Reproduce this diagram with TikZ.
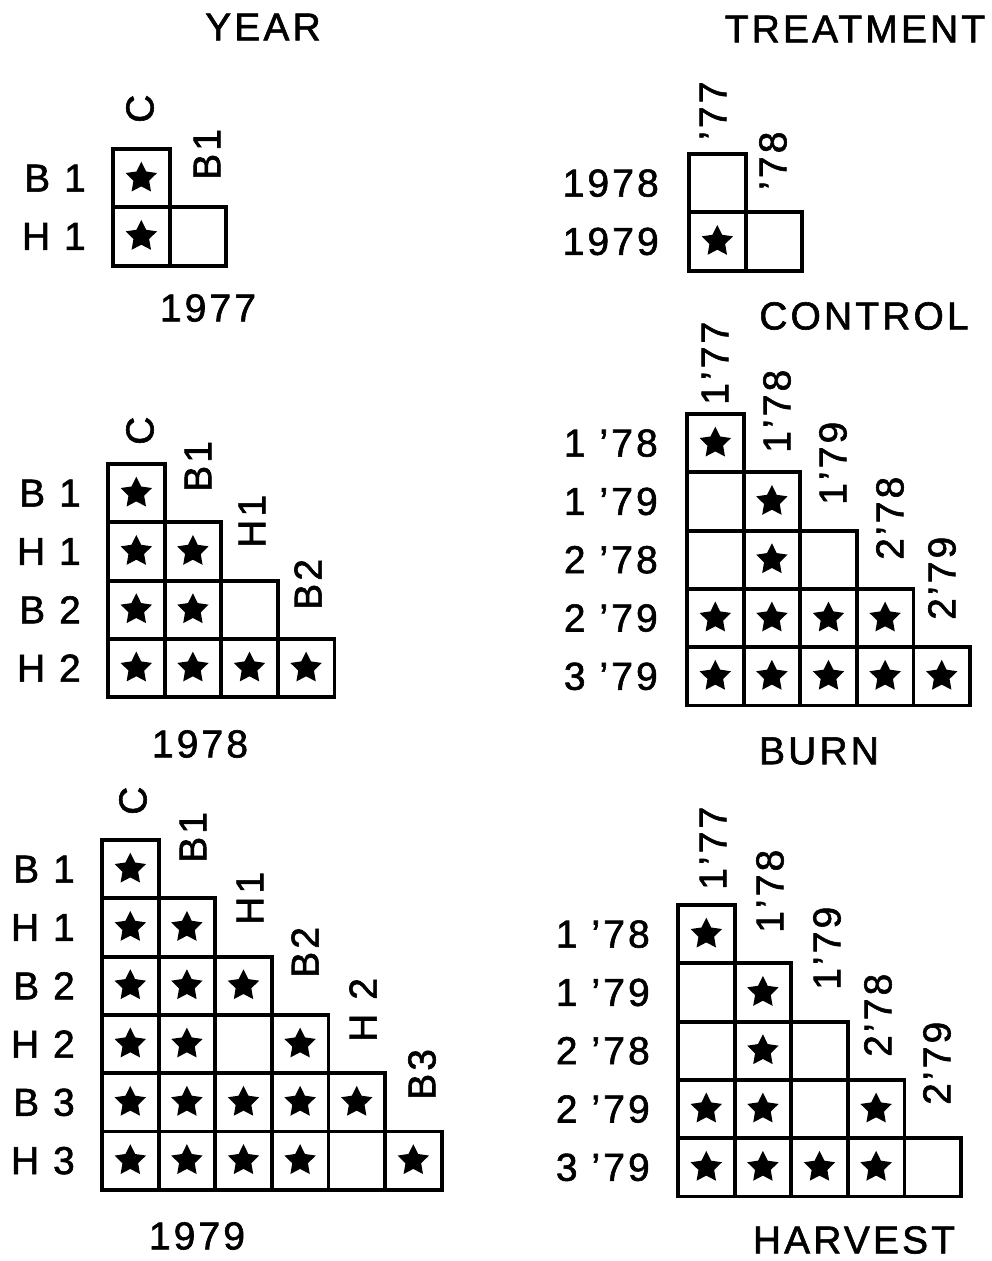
\documentclass[tikz,border=0pt]{standalone}
\usepackage{fontspec}
\setmainfont[LetterSpace=8, BoldFont=Liberation Sans, BoldFeatures={FakeBold=1.5}]{Liberation Sans}
\usetikzlibrary{shapes.geometric,positioning}
\newcommand\cellw{56.6}
\newcommand\cellh{58.3}
\newcommand\drawpanel[4]{%
  \foreach \r/\c/\s in {#4} {%
    \node[cell] (#1-\r-\c) at ({#2+(\c-0.5)*\cellw},{#3+(\r-0.5)*\cellh}) {};
    \ifnum\s=1 \node[staricon] (#1-\r-\c-star) at (#1-\r-\c) {};\fi
  }}
\begin{document}
\begin{tikzpicture}[x=1pt,y=-1pt,
  cell/.style={draw, line width=3.8pt, minimum width=56.6pt, minimum height=58.3pt, inner sep=0pt, outer sep=0pt},
  staricon/.style={star, star points=5, star point ratio=2.0, fill=black, minimum size=33pt, inner sep=0pt},
  lab/.style={font=\fontsize{39}{42}\selectfont\bfseries, inner sep=0pt},
  rowlab/.style={lab, anchor=east},
  collab/.style={lab, rotate=90, anchor=west},
]
\path[use as bounding box] (0,0) rectangle (992,1261);

% titles
\node[lab] (t-year) at (263,27) {YEAR};
\node[lab] (t-treat) at (855,29) {TREATMENT};

% ---------- YEAR 1977 ----------
\drawpanel{ya}{113}{149}{1/1/1, 2/1/1, 2/2/0}
\node[rowlab, left=27pt of ya-1-1] (ya-r1) {B 1};
\node[rowlab, left=27pt of ya-2-1] (ya-r2) {H 1};
\node[collab] (ya-c1) at (140,123) {C};
\node[collab] (ya-c2) at (207,180) {B1};
\node[lab] (ya-cap) at (208,308) {1977};

% ---------- YEAR 1978 ----------
\drawpanel{yb}{108}{464}{1/1/1, 2/1/1, 2/2/1, 3/1/1, 3/2/1, 3/3/0, 4/1/1, 4/2/1, 4/3/1, 4/4/1}
\node[rowlab, left=27pt of yb-1-1] (yb-r1) {B 1};
\node[rowlab, left=27pt of yb-2-1] (yb-r2) {H 1};
\node[rowlab, left=27pt of yb-3-1] (yb-r3) {B 2};
\node[rowlab, left=27pt of yb-4-1] (yb-r4) {H 2};
\node[collab] (yb-c1) at (140,445) {C};
\node[collab] (yb-c2) at (198,492) {B1};
\node[collab] (yb-c3) at (252,548) {H1};
\node[collab] (yb-c4) at (308,610) {B2};
\node[lab] (yb-cap) at (200,744) {1978};

% ---------- YEAR 1979 ----------
\drawpanel{yc}{102}{840}{1/1/1, 2/1/1, 2/2/1, 3/1/1, 3/2/1, 3/3/1, 4/1/1, 4/2/1, 4/3/0, 4/4/1, 5/1/1, 5/2/1, 5/3/1, 5/4/1, 5/5/1, 6/1/1, 6/2/1, 6/3/1, 6/4/1, 6/5/0, 6/6/1}
\node[rowlab, left=27pt of yc-1-1] (yc-r1) {B 1};
\node[rowlab, left=27pt of yc-2-1] (yc-r2) {H 1};
\node[rowlab, left=27pt of yc-3-1] (yc-r3) {B 2};
\node[rowlab, left=27pt of yc-4-1] (yc-r4) {H 2};
\node[rowlab, left=27pt of yc-5-1] (yc-r5) {B 3};
\node[rowlab, left=27pt of yc-6-1] (yc-r6) {H 3};
\node[collab] (yc-c1) at (133,815) {C};
\node[collab] (yc-c2) at (193,863) {B1};
\node[collab] (yc-c3) at (250,925) {H1};
\node[collab] (yc-c4) at (305,978) {B2};
\node[collab] (yc-c5) at (363,1042) {H 2};
\node[collab] (yc-c6) at (422,1100) {B3};
\node[lab] (yc-cap) at (197,1236) {1979};

% ---------- CONTROL ----------
\drawpanel{tc}{689}{154}{1/1/0, 2/1/1, 2/2/0}
\node[rowlab, left=30pt of tc-1-1] (tc-r1) {1978};
\node[rowlab, left=30pt of tc-2-1] (tc-r2) {1979};
\node[collab] (tc-c1) at (713,140) {’77};
\node[collab] (tc-c2) at (773,190) {’78};
\node[lab] (tc-cap) at (864,316) {CONTROL};

% ---------- BURN ----------
\drawpanel{tb}{687}{414}{1/1/1, 2/1/0, 2/2/1, 3/1/0, 3/2/1, 3/3/0, 4/1/1, 4/2/1, 4/3/1, 4/4/1, 5/1/1, 5/2/1, 5/3/1, 5/4/1, 5/5/1}
\node[rowlab, left=29pt of tb-1-1] (tb-r1) {1 ’78};
\node[rowlab, left=29pt of tb-2-1] (tb-r2) {1 ’79};
\node[rowlab, left=29pt of tb-3-1] (tb-r3) {2 ’78};
\node[rowlab, left=29pt of tb-4-1] (tb-r4) {2 ’79};
\node[rowlab, left=29pt of tb-5-1] (tb-r5) {3 ’79};
\node[collab] (tb-c1) at (715,405) {1’77};
\node[collab] (tb-c2) at (777,453) {1’78};
\node[collab] (tb-c3) at (833,505) {1’79};
\node[collab] (tb-c4) at (890,560) {2’78};
\node[collab] (tb-c5) at (942,620) {2’79};
\node[lab] (tb-cap) at (819,751) {BURN};

% ---------- HARVEST ----------
\drawpanel{th}{678}{905}{1/1/1, 2/1/0, 2/2/1, 3/1/0, 3/2/1, 3/3/0, 4/1/1, 4/2/1, 4/3/0, 4/4/1, 5/1/1, 5/2/1, 5/3/1, 5/4/1, 5/5/0}
\node[rowlab, left=28pt of th-1-1] (th-r1) {1 ’78};
\node[rowlab, left=28pt of th-2-1] (th-r2) {1 ’79};
\node[rowlab, left=28pt of th-3-1] (th-r3) {2 ’78};
\node[rowlab, left=28pt of th-4-1] (th-r4) {2 ’79};
\node[rowlab, left=28pt of th-5-1] (th-r5) {3 ’79};
\node[collab] (th-c1) at (713,890) {1’77};
\node[collab] (th-c2) at (770,933) {1’78};
\node[collab] (th-c3) at (827,990) {1’79};
\node[collab] (th-c4) at (878,1057) {2’78};
\node[collab] (th-c5) at (937,1105) {2’79};
\node[lab] (th-cap) at (854,1240) {HARVEST};
\end{tikzpicture}
\end{document}
